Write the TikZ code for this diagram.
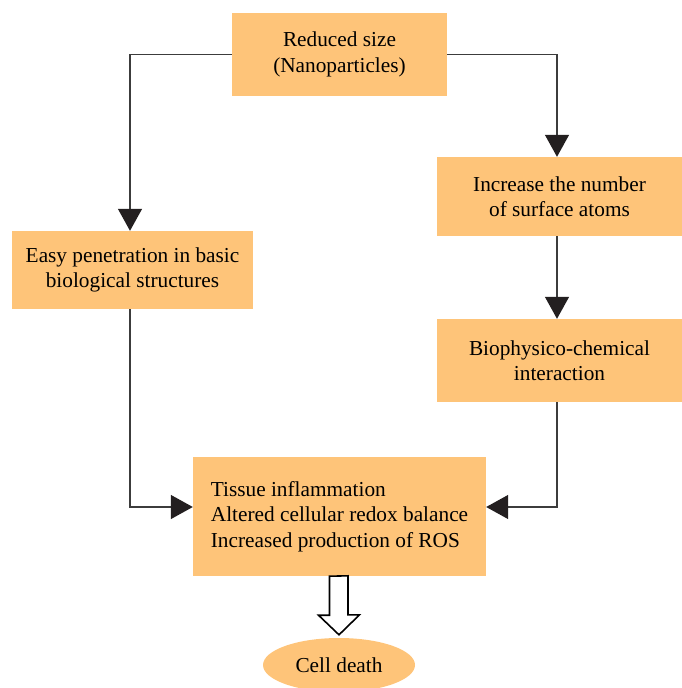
\documentclass[tikz,border=0pt]{standalone}
\usepackage{fontspec}
\setmainfont{Liberation Serif}
\usetikzlibrary{arrows.meta,calc,shapes.geometric}

\definecolor{boxfill}{RGB}{254,196,121}
\definecolor{linegray}{RGB}{60,60,60}
\definecolor{tipblack}{RGB}{35,31,32}

\begin{document}
\begin{tikzpicture}[x=1pt,y=-1pt,
	box/.style={fill=boxfill, inner sep=0pt, align=center,
		font=\fontsize{21.3}{25.5}\selectfont},
	flow/.style={draw=linegray, line width=1.3pt,
		-{Triangle[width=24pt,length=22pt,color=tipblack]}},
	fat/.style={draw=black, line width=1.6pt, fill=white, line join=miter}]

% frame %{{{2

	\useasboundingbox (0,0) rectangle (682,688);

% boxes %{{{2

	\node[box, minimum width=215pt, minimum height=83pt] (size) at (339.5,54.5)
		{Reduced size\\(Nanoparticles)};

	% ---- left branch

	\node[box, minimum width=241pt, minimum height=78pt] (easy) at (132.5,270)
		{Easy penetration in basic\\biological structures};

	% ---- right branch

	\node[box, minimum width=245pt, minimum height=79pt] (surf) at (559.5,196.5)
		{Increase the number\\of surface atoms};
	\node[box, minimum width=245pt, minimum height=83pt] (bio) at (559.5,360.5)
		{Biophysico-chemical\\interaction};

	% ---- effects and outcome

	\node[box, align=left, minimum width=293pt, minimum height=119pt] (ros) at (339.5,516.5)
		{Tissue inflammation\\Altered cellular redox balance\\Increased production of ROS};
	\node[box, ellipse, minimum width=152pt, minimum height=54pt] (death) at (339,665)
		{Cell death};

% connectors %{{{2

	\draw[flow] (size.west) -| ([xshift=-2.5pt]easy.north);
	\draw[flow] (size.east) -| ([xshift=-2.5pt]surf.north);
	\draw[flow] ([xshift=-2.5pt]surf.south) -- ([xshift=-2.5pt]bio.north);

	% ---- both branches into the effects box

	\draw[flow] ([xshift=-2.5pt]easy.south) |- ([yshift=9.5pt]ros.west);
	\draw[flow] ([xshift=-2.5pt]bio.south) |- ([yshift=9.5pt]ros.east);

	% ---- hollow arrow down to the outcome

	\draw[fat] ($(ros.south)+(-10,0)$) -- ++(0,39) -- ++(-11,0)
		-- ($(death.north)+(0,-3)$) -- ++(20.5,-20) -- ++(-11.5,0)
		-- ++(0,-39) -- cycle;

% closing %{{{2

\end{tikzpicture}
\end{document}
